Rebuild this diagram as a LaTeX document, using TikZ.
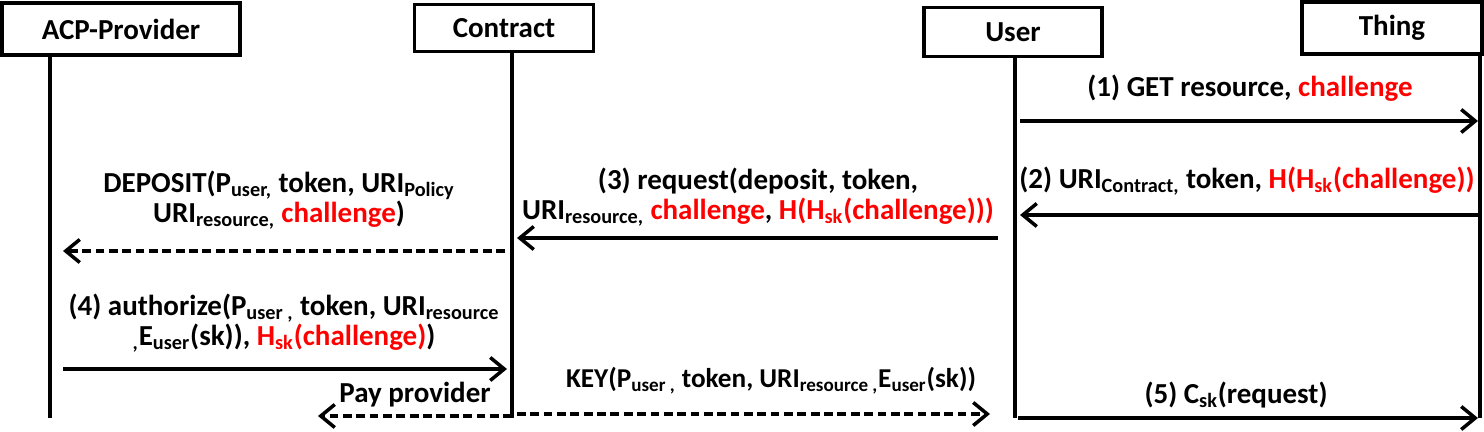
\documentclass[tikz,border=0pt]{standalone}
\usepackage{fontspec}
\setmainfont{Carlito}
\usepackage{xcolor}
\usetikzlibrary{arrows.meta}
\newcommand{\lo}[1]{\textsubscript{#1}}
\newcommand{\hl}[1]{\textcolor{red}{#1}}

\begin{document}
\begin{tikzpicture}[x=0.02cm, y=-0.02cm,
    font=\bfseries\fontsize{16.5}{17}\selectfont,
    actor/.style={draw, line width=2.2pt, inner sep=0pt,
      font=\bfseries\fontsize{16.5}{17}\selectfont},
    life/.style={line width=2pt},
    msg/.style={line width=2pt, -{Straight Barb[length=2.8mm, width=4.6mm, line width=2pt]}},
    reply/.style={msg, dash pattern=on 5pt off 2.6pt},
    lbl/.style={align=center, inner sep=0pt}]
  \useasboundingbox (0,0) rectangle (1484,432);

  % ---- actors ----
  \node[actor, minimum width=4.76cm, minimum height=1.04cm] (acp) at (121,29) {ACP-Provider};
  \node[actor, minimum width=3.58cm, minimum height=0.94cm] (contract) at (504,28) {Contract};
  \node[actor, minimum width=3.56cm, minimum height=0.98cm] (user) at (1013,32) {User};
  \node[actor, minimum width=3.60cm, minimum height=1.04cm] (thing) at (1392,28) {Thing};

  % ---- lifelines ----
  \coordinate (acpL) at (50,418);
  \coordinate (contractL) at (512,418);
  \coordinate (userL) at (1015,418);
  \coordinate (thingL) at (1480,418);
  \draw[life] (acp.south -| acpL) -- (acpL);
  \draw[life] (contract.south -| contractL) -- (contractL);
  \draw[life] (user.south -| userL) -- (userL);
  \draw[life] (thing.south -| thingL) -- (thingL);

  % ---- (1) ----
  \coordinate (m1a) at (1020,121);
  \coordinate (m1b) at (1478,121);
  \draw[msg] (m1a) -- (m1b);
  \node[lbl] (l1) at (1250,88) {(1) GET resource, \hl{challenge}};

  % ---- (2) ----
  \coordinate (m2a) at (1478,215);
  \coordinate (m2b) at (1020,215);
  \draw[msg] (m2a) -- (m2b);
  \node[lbl] (l2) at (1247,181) {(2) URI\lo{Contract,} token, \hl{H(H\lo{sk}(challenge))}};

  % ---- (3) ----
  \coordinate (m3a) at (998,238);
  \coordinate (m3b) at (517,238);
  \draw[msg] (m3a) -- (m3b);
  \node[lbl] (l3) at (758,197) {(3) request(deposit, token,\\
    URI\lo{resource,} \hl{challenge}, \hl{H(H\lo{sk}(challenge)))}};

  % ---- deposit ----
  \coordinate (m4a) at (505,251);
  \coordinate (m4b) at (63,251);
  \draw[reply] (m4a) -- (m4b);
  \node[lbl] (l4) at (279,200) {DEPOSIT(P\lo{user,} token, URI\lo{Policy}\\
    URI\lo{resource,} \hl{challenge})};

  % ---- (4) ----
  \coordinate (m5a) at (63,369);
  \coordinate (m5b) at (507,369);
  \draw[msg] (m5a) -- (m5b);
  \node[lbl] (l5) at (284,323) {(4) authorize(P\lo{user ,} token, URI\lo{resource}\\
    \lo{,}E\lo{user}(sk)), \hl{H\lo{sk}(challenge)})};

  % ---- pay provider ----
  \coordinate (m6a) at (512,416);
  \coordinate (m6b) at (318,416);
  \draw[reply] (m6a) -- (m6b);
  \node[lbl] (l6) at (415,395) {Pay provider};

  % ---- key ----
  \coordinate (m7a) at (517,414);
  \coordinate (m7b) at (990,414);
  \draw[reply] (m7a) -- (m7b);
  \node[lbl, font=\bfseries\fontsize{15.5}{17}\selectfont] (l7) at (771,381)
    {KEY(P\lo{user ,} token, URI\lo{resource ,}E\lo{user}(sk))};

  % ---- (5) ----
  \coordinate (m8a) at (1018,418);
  \coordinate (m8b) at (1478,418);
  \draw[msg] (m8a) -- (m8b);
  \node[lbl] (l8) at (1236,395) {(5) C\lo{sk}(request)};
\end{tikzpicture}
\end{document}
